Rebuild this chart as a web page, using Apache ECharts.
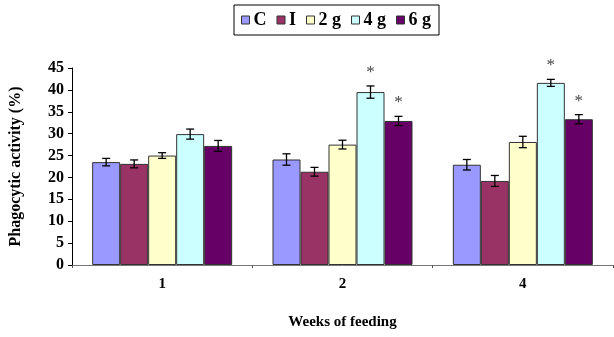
<!DOCTYPE html>
<html>
<head>
<meta charset="utf-8">
<script src="https://cdn.jsdelivr.net/npm/echarts@6/dist/echarts.min.js"></script>
<style>
  html, body { margin: 0; padding: 0; background: #fff; }
  #chart { width: 614px; height: 337px; }
</style>
</head>
<body>
<div id="chart"></div>
<script>
// weeks of feeding
var weeks = ['1', '2', '4']
var groupNames = ['C', 'I', '2 g', '4 g', '6 g']
var groupColors = ['#9999FF', '#993366', '#FFFFCC', '#CCFFFF', '#660066']

// mean phagocytic activity (%) per group, one value per week
var valC = [23.5, 24.1, 22.9]
var valI = [23.1, 21.3, 19.2]
var val2g = [25.0, 27.5, 28.1]
var val4g = [29.9, 39.5, 41.6]
var val6g = [27.2, 32.9, 33.3]

// error (+/-) per group
var errC = [0.85, 1.3, 1.2]
var errI = [0.9, 1.0, 1.25]
var err2g = [0.65, 1.0, 1.3]
var err4g = [1.15, 1.4, 0.8]
var err6g = [1.25, 1.05, 1.05]

// significance stars
var star4g = [false, true, true]
var star6g = [false, true, true]

var yTicks = [0, 5, 10, 15, 20, 25, 30, 35, 40, 45]

var allVals = [valC, valI, val2g, val4g, val6g]
var allErrs = [errC, errI, err2g, err4g, err6g]
var allStars = [null, null, null, star4g, star6g]

var barW = 28
var font = 'Liberation Serif'

var chart = echarts.init(document.getElementById('chart'))

var series = []
for (var s = 0; s < groupNames.length; s++) {
    series.push({
        name: groupNames[s],
        type: 'bar',
        data: allVals[s],
        barWidth: barW,
        barGap: '0%',
        itemStyle: {
            color: groupColors[s],
            borderColor: '#333',
            borderWidth: 1
        },
        silent: true
    })
}

// error bars + stars
var errData = []
for (var s = 0; s < groupNames.length; s++) {
    for (var w = 0; w < weeks.length; w++) {
        var v = allVals[s][w], e = allErrs[s][w]
        var st = allStars[s] && allStars[s][w] ? 1 : 0
        errData.push([w, v - e, v + e, s, st])
    }
}
series.push({
    type: 'custom',
    silent: true,
    z: 10,
    data: errData,
    renderItem: function (params, api) {
        var cat = api.value(0)
        var lo = api.coord([cat, api.value(1)])
        var hi = api.coord([cat, api.value(2)])
        var cx = lo[0] + (api.value(3) - 2) * barW
        var cap = 4
        var lineStyle = { stroke: '#000', lineWidth: 1.3 }
        var children = [
            { type: 'line', shape: { x1: cx, y1: lo[1], x2: cx, y2: hi[1] }, style: lineStyle },
            { type: 'line', shape: { x1: cx - cap, y1: lo[1], x2: cx + cap, y2: lo[1] }, style: lineStyle },
            { type: 'line', shape: { x1: cx - cap, y1: hi[1], x2: cx + cap, y2: hi[1] }, style: lineStyle }
        ]
        if (api.value(4)) {
            children.push({
                type: 'text',
                style: {
                    x: cx, y: hi[1] - 5, text: '*',
                    fill: '#444', font: '17px ' + font,
                    align: 'center', verticalAlign: 'bottom'
                }
            })
        }
        return { type: 'group', children: children }
    }
})

var option = {
    animation: false,
    legend: {
        data: groupNames,
        left: 234,
        top: 5,
        padding: [6, 8, 6, 7],
        borderColor: '#000',
        borderWidth: 1,
        itemGap: 10,
        itemWidth: 8,
        itemHeight: 8,
        icon: 'rect',
        itemStyle: { borderColor: '#333', borderWidth: 1 },
        textStyle: { fontFamily: font, fontWeight: 'bold', fontSize: 18, color: '#000', padding: [0, 0, 0, -1] },
        selectedMode: false
    },
    grid: { left: 66, right: 1, top: 68, bottom: 72 },
    xAxis: {
        type: 'category',
        data: weeks,
        name: 'Weeks of feeding',
        nameLocation: 'middle',
        nameGap: 50,
        nameTextStyle: { fontFamily: font, fontWeight: 'bold', fontSize: 15, color: '#000' },
        axisLine: { lineStyle: { color: '#777', width: 1 } },
        axisTick: { show: true, length: 3, lineStyle: { color: '#555' } },
        axisLabel: { margin: 12, fontFamily: font, fontWeight: 'bold', fontSize: 15, color: '#000' }
    },
    yAxis: {
        type: 'value',
        min: yTicks[0],
        max: yTicks[yTicks.length - 1],
        interval: 5,
        name: 'Phagocytic activity (%)',
        nameLocation: 'middle',
        nameGap: 48,
        nameTextStyle: { fontFamily: font, fontWeight: 'bold', fontSize: 16, color: '#000' },
        axisLine: { show: true, lineStyle: { color: '#000', width: 1 } },
        axisTick: { show: true, length: 4, lineStyle: { color: '#000' } },
        axisLabel: { margin: 8, fontFamily: font, fontWeight: 'bold', fontSize: 16, color: '#000' },
        splitLine: { show: false }
    },
    series: series
}
chart.setOption(option)
</script>
</body>
</html>
